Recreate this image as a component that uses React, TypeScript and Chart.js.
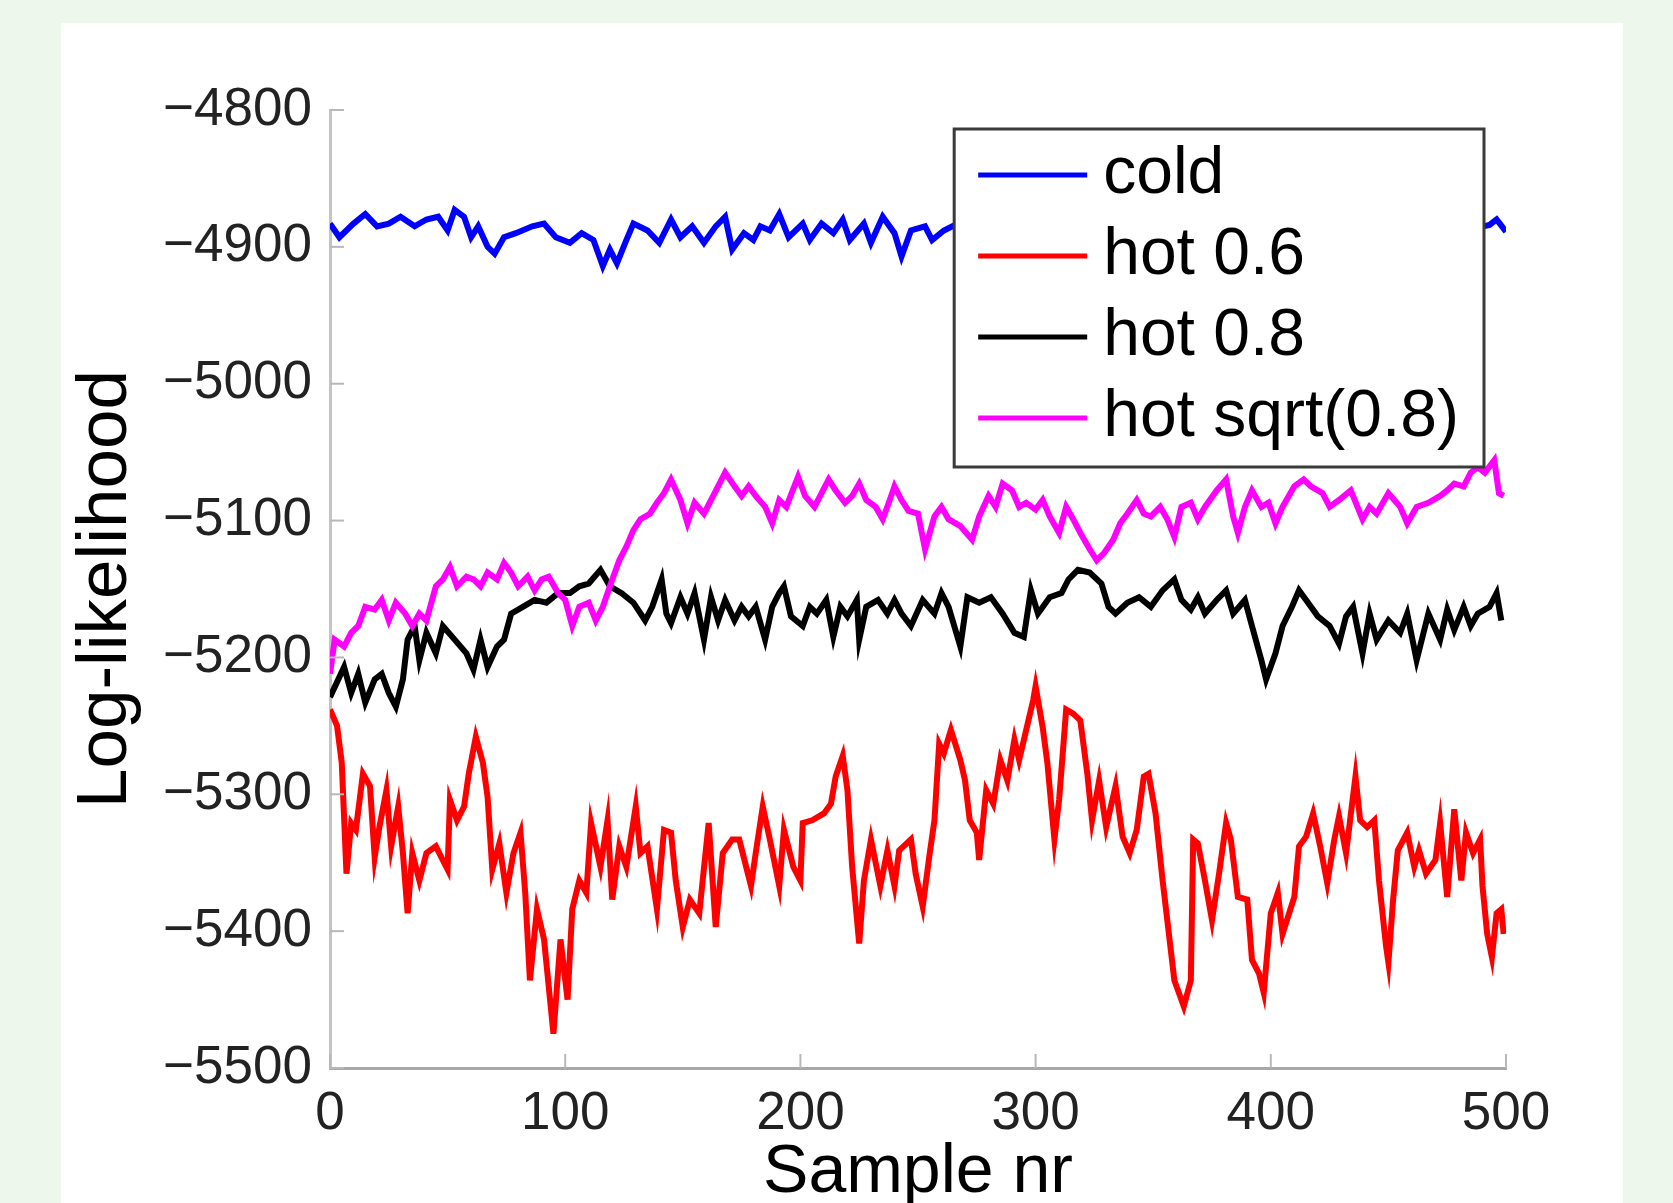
import React, { useEffect, useRef } from "react";
import { Chart, registerables } from "chart.js";

Chart.register(...registerables);

const seriesLabels = ["cold", "hot 0.6", "hot 0.8", "hot sqrt(0.8)"];
const seriesColors = ["#0000ff", "#ff0000", "#000000", "#ff00ff"];
const xTickValues = [0, 100, 200, 300, 400, 500];
const yTickValues = [-5500, -5400, -5300, -5200, -5100, -5000, -4900, -4800];
const xTitle = "Sample nr";
const yTitle = "Log-likelihood";

// [sample nr, log-likelihood]
const coldSeries: [number, number][] = [
  [0, -4883], [4, -4893], [10, -4883], [15, -4876], [20, -4885], [25, -4883], [30, -4878], [36, -4885],
  [41, -4880], [46, -4878], [50, -4888], [53, -4873], [57, -4878], [60, -4893], [63, -4885], [67, -4900],
  [70, -4905], [74, -4893], [79, -4890], [86, -4885], [91, -4883], [96, -4893], [102, -4897], [107, -4890],
  [112, -4895], [116, -4914], [119, -4902], [122, -4912], [126, -4895], [129, -4883], [135, -4888], [140, -4897],
  [145, -4880], [149, -4893], [154, -4885], [159, -4897], [164, -4885], [168, -4878], [171, -4902], [176, -4890],
  [180, -4895], [183, -4885], [187, -4888], [191, -4876], [195, -4893], [201, -4883], [204, -4895], [209, -4883],
  [214, -4890], [218, -4880], [221, -4895], [227, -4883], [230, -4897], [235, -4878], [240, -4890], [243, -4907],
  [247, -4888], [253, -4885], [256, -4895], [261, -4888], [267, -4883], [280, -4890], [300, -4886], [320, -4893],
  [340, -4888], [360, -4891], [380, -4884], [400, -4890], [420, -4887], [440, -4892], [460, -4885], [480, -4889],
  [493, -4884], [496, -4880], [500, -4889],
];

const hot06Series: [number, number][] = [
  [0, -5238], [3, -5250], [5, -5277], [7, -5358], [9, -5321], [11, -5326], [14, -5285], [17, -5294],
  [19, -5346], [21, -5324], [24, -5297], [26, -5338], [29, -5309], [31, -5343], [33, -5387], [35, -5343],
  [38, -5363], [41, -5343], [45, -5338], [50, -5355], [51, -5304], [54, -5319], [57, -5309], [59, -5285],
  [62, -5258], [65, -5277], [67, -5302], [69, -5355], [72, -5336], [75, -5372], [78, -5343], [81, -5328],
  [83, -5372], [85, -5436], [88, -5384], [91, -5406], [95, -5475], [98, -5406], [101, -5450], [103, -5384],
  [106, -5363], [109, -5372], [111, -5321], [115, -5353], [118, -5319], [120, -5377], [123, -5338], [126, -5353],
  [130, -5309], [132, -5343], [135, -5338], [139, -5384], [142, -5326], [145, -5328], [147, -5363], [150, -5397],
  [153, -5377], [157, -5387], [161, -5321], [164, -5397], [167, -5343], [171, -5333], [174, -5333], [179, -5367],
  [181, -5343], [184, -5309], [187, -5333], [191, -5367], [193, -5326], [197, -5353], [200, -5363], [201, -5321],
  [205, -5319], [210, -5314], [213, -5307], [215, -5287], [218, -5272], [220, -5297], [222, -5353], [225, -5409],
  [227, -5363], [230, -5333], [234, -5367], [237, -5341], [240, -5367], [242, -5341], [247, -5333], [249, -5358],
  [252, -5382], [255, -5343], [257, -5319], [259, -5263], [261, -5270], [264, -5253], [268, -5275], [270, -5290],
  [272, -5319], [275, -5328], [276, -5348], [279, -5297], [282, -5307], [285, -5275], [288, -5290], [291, -5260],
  [293, -5275], [296, -5253], [299, -5231], [300, -5221], [303, -5251], [305, -5277], [308, -5333], [310, -5304],
  [313, -5238], [316, -5241], [319, -5246], [322, -5285], [324, -5319], [327, -5290], [330, -5324], [334, -5294],
  [337, -5331], [340, -5343], [343, -5326], [346, -5287], [348, -5285], [351, -5314], [354, -5363], [359, -5436],
  [363, -5455], [366, -5436], [367, -5333], [369, -5336], [372, -5363], [375, -5392], [378, -5358], [381, -5321],
  [383, -5333], [386, -5375], [390, -5377], [392, -5421], [395, -5431], [397, -5445], [400, -5387], [403, -5372],
  [405, -5402], [410, -5375], [412, -5338], [415, -5331], [418, -5314], [421, -5338], [424, -5365], [427, -5333],
  [429, -5316], [432, -5343], [436, -5287], [438, -5319], [441, -5324], [444, -5319], [446, -5363], [449, -5411],
  [450, -5423], [452, -5377], [454, -5341], [458, -5328], [461, -5353], [463, -5341], [466, -5358], [470, -5348],
  [472, -5321], [475, -5375], [478, -5311], [481, -5363], [483, -5328], [486, -5343], [489, -5333], [490, -5367],
  [492, -5402], [494, -5419], [496, -5387], [498, -5384], [499, -5402],
];

const hot08Series: [number, number][] = [
  [0, -5229], [6, -5207], [9, -5226], [12, -5212], [15, -5233], [19, -5216], [22, -5212], [25, -5226],
  [28, -5236], [31, -5216], [33, -5187], [36, -5177], [38, -5202], [41, -5182], [45, -5197], [48, -5177],
  [53, -5187], [58, -5197], [61, -5209], [64, -5187], [67, -5207], [71, -5192], [74, -5187], [77, -5168],
  [82, -5163], [87, -5158], [92, -5160], [97, -5153], [102, -5153], [106, -5148], [110, -5146], [115, -5136],
  [119, -5148], [124, -5153], [129, -5160], [134, -5173], [137, -5163], [141, -5143], [143, -5168], [145, -5175],
  [149, -5156], [152, -5168], [155, -5153], [159, -5187], [162, -5156], [165, -5173], [168, -5158], [172, -5173],
  [175, -5163], [178, -5170], [181, -5163], [185, -5187], [188, -5163], [191, -5153], [193, -5148], [196, -5170],
  [201, -5177], [204, -5163], [207, -5168], [211, -5158], [214, -5185], [217, -5163], [220, -5170], [224, -5158],
  [225, -5187], [228, -5163], [233, -5158], [237, -5168], [240, -5158], [243, -5168], [247, -5177], [252, -5158],
  [257, -5168], [260, -5153], [263, -5163], [268, -5192], [271, -5156], [276, -5160], [281, -5156], [286, -5168],
  [291, -5182], [295, -5185], [298, -5151], [301, -5168], [306, -5156], [311, -5153], [314, -5143], [318, -5136],
  [323, -5138], [328, -5146], [331, -5163], [334, -5168], [339, -5160], [344, -5156], [349, -5163], [354, -5151],
  [359, -5143], [362, -5158], [366, -5165], [369, -5156], [372, -5168], [377, -5158], [381, -5151], [384, -5168],
  [389, -5158], [392, -5177], [396, -5202], [398, -5216], [402, -5197], [405, -5177], [409, -5163], [412, -5151],
  [415, -5158], [420, -5170], [425, -5177], [429, -5190], [432, -5170], [435, -5163], [439, -5197], [442, -5168],
  [445, -5187], [450, -5173], [455, -5182], [458, -5168], [462, -5202], [467, -5168], [472, -5187], [475, -5165],
  [478, -5180], [482, -5163], [485, -5177], [488, -5168], [493, -5163], [496, -5153], [498, -5173],
];

const hotSqrt08Series: [number, number][] = [
  [0, -5212], [2, -5187], [6, -5192], [9, -5182], [12, -5177], [15, -5163], [19, -5165], [22, -5158],
  [25, -5173], [28, -5160], [32, -5168], [35, -5177], [38, -5168], [41, -5173], [45, -5148], [48, -5143],
  [51, -5134], [54, -5148], [58, -5141], [61, -5143], [64, -5148], [67, -5138], [71, -5143], [74, -5131],
  [77, -5138], [80, -5148], [84, -5141], [87, -5151], [90, -5143], [93, -5141], [97, -5153], [100, -5158],
  [103, -5177], [106, -5163], [110, -5160], [113, -5173], [116, -5163], [119, -5148], [123, -5129], [126, -5119],
  [129, -5107], [132, -5099], [136, -5095], [139, -5087], [142, -5080], [145, -5070], [149, -5085], [152, -5102],
  [155, -5087], [159, -5095], [162, -5085], [165, -5075], [168, -5065], [172, -5075], [175, -5082], [178, -5075],
  [181, -5082], [185, -5090], [188, -5102], [191, -5085], [194, -5090], [199, -5068], [202, -5082], [206, -5090],
  [209, -5080], [212, -5070], [215, -5078], [219, -5087], [222, -5082], [225, -5073], [228, -5085], [232, -5090],
  [235, -5099], [238, -5085], [240, -5075], [243, -5085], [246, -5093], [250, -5095], [253, -5121], [257, -5097],
  [260, -5090], [263, -5099], [268, -5104], [273, -5114], [276, -5097], [280, -5082], [283, -5090], [286, -5073],
  [290, -5078], [293, -5090], [296, -5087], [300, -5092], [303, -5085], [306, -5097], [310, -5109], [313, -5090],
  [316, -5099], [319, -5109], [323, -5121], [326, -5129], [329, -5124], [333, -5114], [336, -5102], [339, -5095],
  [343, -5085], [346, -5095], [349, -5097], [353, -5090], [356, -5099], [359, -5112], [362, -5090], [366, -5087],
  [369, -5099], [372, -5090], [377, -5078], [381, -5070], [384, -5097], [386, -5109], [389, -5090], [392, -5078],
  [396, -5090], [399, -5087], [402, -5102], [405, -5090], [410, -5075], [414, -5070], [417, -5075], [422, -5080],
  [425, -5090], [429, -5085], [434, -5078], [439, -5099], [442, -5090], [445, -5095], [450, -5080], [455, -5090],
  [458, -5102], [462, -5090], [467, -5087], [472, -5082], [475, -5078], [478, -5073], [482, -5075], [485, -5065],
  [488, -5061], [491, -5065], [495, -5056], [497, -5080], [499, -5082],
];

const allSeries = [coldSeries, hot06Series, hot08Series, hotSqrt08Series];

const CANVAS_W = 1673;
const CANVAS_H = 1260;
const FONT = "'Liberation Sans', Arial, Helvetica, sans-serif";

const overlayPlugin = {
  id: "overlay",
  afterDraw(chart: any) {
    const { ctx, chartArea, scales } = chart;
    ctx.save();
    // inward tick marks
    ctx.strokeStyle = "#b8b8b8";
    ctx.lineWidth = 2;
    scales.x.ticks.forEach((t: any) => {
      const px = scales.x.getPixelForValue(t.value);
      ctx.beginPath();
      ctx.moveTo(px, chartArea.bottom);
      ctx.lineTo(px, chartArea.bottom - 14);
      ctx.stroke();
    });
    scales.y.ticks.forEach((t: any) => {
      const py = scales.y.getPixelForValue(t.value);
      ctx.beginPath();
      ctx.moveTo(chartArea.left, py);
      ctx.lineTo(chartArea.left + 14, py);
      ctx.stroke();
    });

    // legend box
    const fontSize = 66;
    ctx.font = `${fontSize}px ${FONT}`;
    const labels = chart.data.datasets.map((d: any) => d.label);
    const maxW = Math.max(...labels.map((l: string) => ctx.measureText(l).width));
    const padL = 24, lineLen = 109, gap = 16, padR = 25;
    const boxW = padL + lineLen + gap + maxW + padR;
    const rowH = 81, firstRow = 46, lastPad = 49;
    const boxH = firstRow + rowH * (labels.length - 1) + lastPad;
    const right = chartArea.right - 22;
    const top = chartArea.top + 19;
    const left = right - boxW;
    ctx.fillStyle = "#ffffff";
    ctx.fillRect(left, top, boxW, boxH);
    ctx.strokeStyle = "#3a3a3a";
    ctx.lineWidth = 3;
    ctx.strokeRect(left, top, boxW, boxH);
    chart.data.datasets.forEach((d: any, i: number) => {
      const y = top + firstRow + i * rowH;
      ctx.strokeStyle = d.borderColor;
      ctx.lineWidth = 5;
      ctx.beginPath();
      ctx.moveTo(left + padL, y);
      ctx.lineTo(left + padL + lineLen, y);
      ctx.stroke();
      ctx.fillStyle = "#000000";
      ctx.textAlign = "left";
      ctx.textBaseline = "middle";
      ctx.fillText(d.label, left + padL + lineLen + gap, y);
    });
    ctx.restore();
  },
};

export default function App() {
  const canvasRef = useRef<HTMLCanvasElement | null>(null);

  useEffect(() => {
    if (!canvasRef.current) return;
    const chart = new Chart(canvasRef.current, {
      type: "line",
      data: {
        datasets: allSeries.map((s, i) => ({
          label: seriesLabels[i],
          data: s.map(([x, y]) => ({ x, y })),
          borderColor: seriesColors[i],
          backgroundColor: seriesColors[i],
          borderWidth: 6,
          borderJoinStyle: "miter" as const,
          pointRadius: 0,
          tension: 0,
          fill: false,
          order: allSeries.length - i,
        })),
      },
      options: {
        responsive: false,
        animation: false,
        events: [],
        layout: { padding: { left: 0, right: 167, top: 110, bottom: 0 } },
        plugins: {
          legend: { display: false },
          tooltip: { enabled: false },
        },
        scales: {
          x: {
            type: "linear",
            min: xTickValues[0],
            max: xTickValues[xTickValues.length - 1],
            afterBuildTicks: (scale: any) => {
              scale.ticks = xTickValues.map((v) => ({ value: v }));
            },
            afterFit: (scale: any) => {
              scale.height = CANVAS_H - 1068;
            },
            grid: { display: false, drawTicks: false },
            border: { display: true, color: "#a8a8a8", width: 3 },
            ticks: {
              font: { size: 53, family: FONT },
              color: "#222222",
              padding: 15,
              maxRotation: 0,
              autoSkip: false,
              callback: (v: any) => String(v),
            },
            title: {
              display: true,
              text: xTitle,
              color: "#000000",
              font: { size: 68, family: FONT },
              padding: { top: 0, bottom: 46 },
            },
          },
          y: {
            type: "linear",
            min: yTickValues[0],
            max: yTickValues[yTickValues.length - 1],
            afterBuildTicks: (scale: any) => {
              scale.ticks = yTickValues.map((v) => ({ value: v }));
            },
            afterFit: (scale: any) => {
              scale.width = 330;
            },
            grid: { display: false, drawTicks: false },
            border: { display: true, color: "#c4c4c4", width: 3 },
            ticks: {
              font: { size: 53, family: FONT },
              color: "#222222",
              padding: 18,
              autoSkip: false,
              callback: (v: any) => String(v).replace("-", "\u2212"),
            },
            title: {
              display: true,
              text: yTitle,
              color: "#000000",
              font: { size: 71, family: FONT },
              padding: { top: 64, bottom: 0 },
            },
          },
        },
      },
      plugins: [overlayPlugin],
    });
    return () => chart.destroy();
  }, []);

  return (
    <div
      style={{
        position: "fixed",
        left: 0,
        top: 0,
        width: 1673,
        height: 1203,
        overflow: "hidden",
        background: "#eef7ec",
      }}
    >
      <div
        style={{
          position: "absolute",
          left: 61,
          top: 23,
          width: 1562,
          height: 1300,
          background: "#ffffff",
        }}
      />
      <canvas
        ref={canvasRef}
        width={CANVAS_W}
        height={CANVAS_H}
        style={{ position: "absolute", left: 0, top: 0, display: "block" }}
      />
    </div>
  );
}
